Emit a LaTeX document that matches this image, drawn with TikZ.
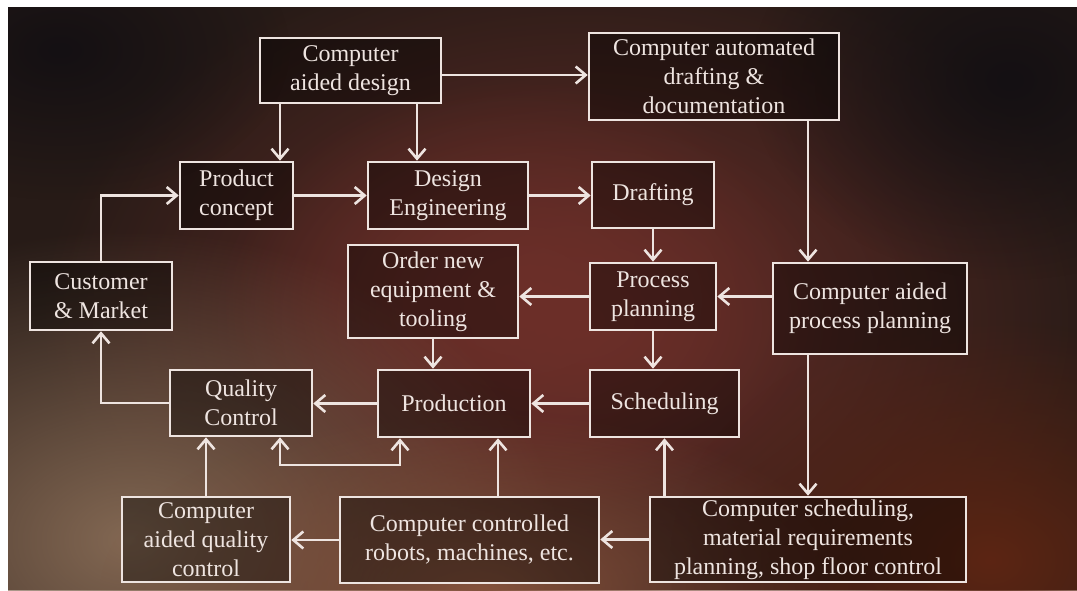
\documentclass[tikz,border=0pt]{standalone}
\usepackage{fontspec}
\setmainfont{Liberation Serif}
\usetikzlibrary{arrows.meta,fadings}

\definecolor{ink}{HTML}{EEE4E0}
\definecolor{bgbase}{HTML}{271B17}
\definecolor{bgred}{HTML}{6C2F29}
\definecolor{bgtan}{HTML}{836853}
\definecolor{bgwarm}{HTML}{84523C}
\definecolor{bgrust}{HTML}{5C2513}
\definecolor{bgdark}{HTML}{141013}

\tikzfading[name=glow, inner color=transparent!0, outer color=transparent!100]

\begin{document}
\begin{tikzpicture}[x=1pt,y=-1pt,
  box/.style={draw=ink, line width=2.6pt, fill=black, fill opacity=0.38,
    text opacity=1, text=ink, align=center, inner sep=0pt,
    font=\fontsize{24}{29}\selectfont},
  arr/.style={draw=ink, line width=2.6pt, -{Straight Barb[length=10pt,width=17pt]}},
  arrboth/.style={draw=ink, line width=2.6pt,
    {Straight Barb[length=10pt,width=17pt]}-{Straight Barb[length=10pt,width=17pt]}},
]
% page and backdrop
\useasboundingbox (0,0) rectangle (1077,590);
\fill[white] (0,0) rectangle (1077,590);
\begin{scope}
  \clip (8,7) rectangle (1077,590);
  \fill[bgbase] (8,7) rectangle (1077,590);
  \fill[bgred, path fading=glow] (580,320) ellipse (540 and 380);
  \fill[bgred, path fading=glow] (520,300) ellipse (300 and 220);
  \fill[bgtan, path fading=glow] (130,540) ellipse (430 and 310);
  \fill[bgwarm, path fading=glow] (480,590) ellipse (380 and 180);
  \fill[bgrust, path fading=glow] (990,560) ellipse (320 and 240);
  \fill[bgdark, path fading=glow] (1010,80) ellipse (260 and 200);
  \fill[bgdark, path fading=glow] (60,50) ellipse (230 and 150);
\end{scope}

% helper columns and rows for connectors
\coordinate (xPC) at (280,0);
\coordinate (xDE) at (417,0);
\coordinate (xLoop) at (400,0);
\coordinate (xRob) at (498,0);
\coordinate (yTop) at (0,75);
\coordinate (yLoop) at (0,465);

% boxes
\node[box, minimum width=181pt, minimum height=65pt] (cad) at (350.5,70.5) {Computer\\aided design};
\node[box, minimum width=250pt, minimum height=87pt] (cadraft) at (714,76.5) {Computer automated\\drafting \&\\documentation};
\node[box, minimum width=113pt, minimum height=67pt] (pc) at (236.5,195.5) {Product\\concept};
\node[box, minimum width=160pt, minimum height=67pt] (de) at (448,195.5) {Design\\Engineering};
\node[box, minimum width=122pt, minimum height=66pt] (draft) at (653,195) {Drafting};
\node[box, minimum width=142pt, minimum height=68pt] (cust) at (101,296) {Customer\\\& Market};
\node[box, minimum width=170pt, minimum height=93pt] (order) at (433,291.5) {Order new\\equipment \&\\tooling};
\node[box, minimum width=126pt, minimum height=67pt] (pp) at (653,296.5) {Process\\planning};
\node[box, minimum width=194pt, minimum height=91pt] (capp) at (870,308.5) {Computer aided\\process planning};
\node[box, minimum width=142pt, minimum height=66pt] (qc) at (241,403) {Quality\\Control};
\node[box, minimum width=152pt, minimum height=67pt] (prod) at (454,403.5) {Production};
\node[box, minimum width=149pt, minimum height=67pt] (sched) at (664.5,403.5) {Scheduling};
\node[box, minimum width=168pt, minimum height=85pt] (caqc) at (206,539.5) {Computer\\aided quality\\control};
\node[box, minimum width=259pt, minimum height=86pt] (robots) at (469.5,540) {Computer controlled\\robots, machines, etc.};
\node[box, minimum width=316pt, minimum height=85pt] (csched) at (808,539.5) {Computer scheduling,\\material requirements\\planning, shop floor control};

% connectors
\draw[arr] (cad.south -| xPC) -- (pc.north -| xPC);
\draw[arr] (cad.south -| xDE) -- (de.north -| xDE);
\draw[arr] (cad.east |- yTop) -- (cadraft.west |- yTop);
\draw[arr] (pc.east) -- (de.west);
\draw[arr] (de.east) -- (draft.west |- de.east);
\draw[arr] (draft.south) -- (pp.north);
\draw[arr] (cadraft.south -| csched.north) -- (capp.north -| csched.north);
\draw[arr] (capp.west |- pp.east) -- (pp.east);
\draw[arr] (pp.west) -- (order.east |- pp.west);
\draw[arr] (order.south) -- (prod.north -| order.south);
\draw[arr] (pp.south) -- (sched.north -| pp.south);
\draw[arr] (sched.west) -- (prod.east |- sched.west);
\draw[arr] (prod.west) -- (qc.east |- prod.west);
\draw[arr] (qc.west) -| (cust.south);
\draw[arr] (cust.north) |- (pc.west);
\draw[arr] (capp.south -| csched.north) -- (csched.north);
\draw[arr] (csched.north -| sched.south) -- (sched.south);
\draw[arr] (csched.west) -- (robots.east |- csched.west);
\draw[arr] (robots.west) -- (caqc.east |- robots.west);
\draw[arr] (robots.north -| xRob) -- (prod.south -| xRob);
\draw[arr] (caqc.north) -- (qc.south -| caqc.north);
\draw[arrboth] (prod.south -| xLoop) -- (xLoop |- yLoop) -- (xPC |- yLoop) -- (qc.south -| xPC);
\end{tikzpicture}
\end{document}
